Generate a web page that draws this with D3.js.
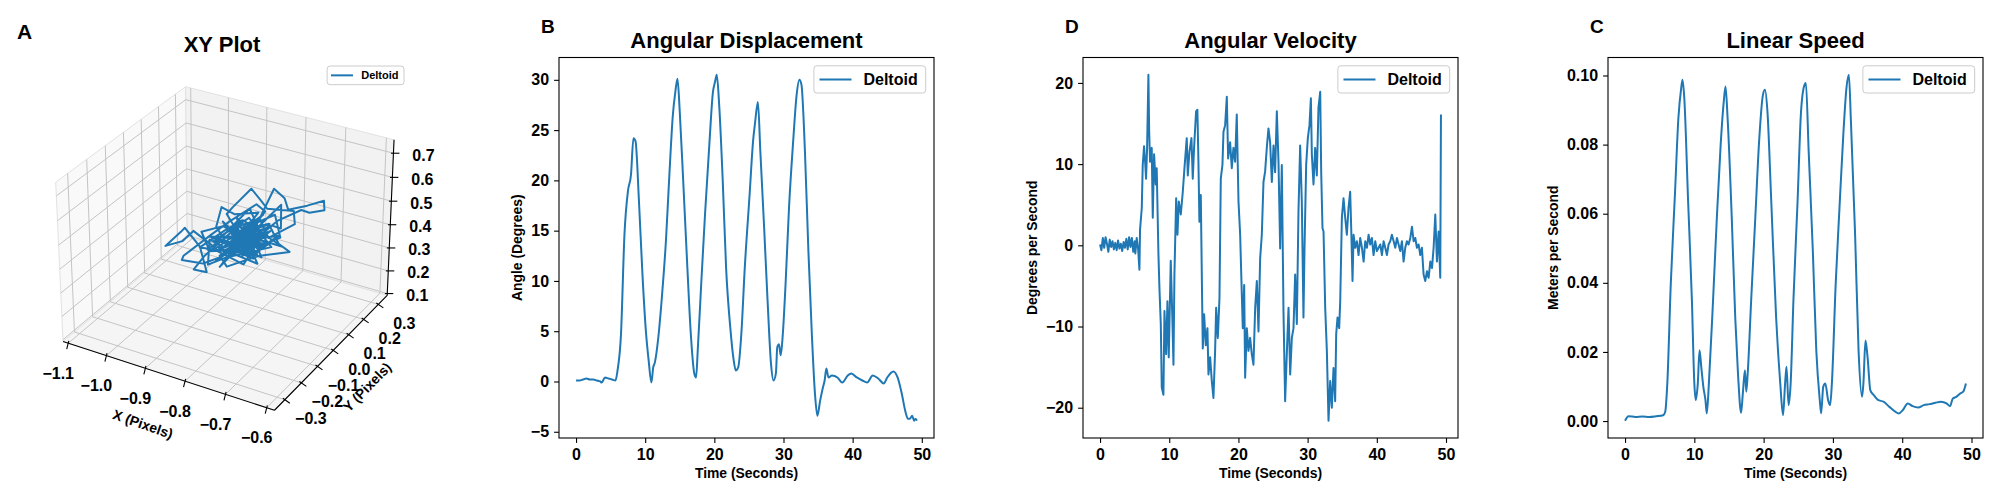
<!DOCTYPE html>
<html>
<head>
<meta charset="utf-8">
<script src="https://cdn.jsdelivr.net/npm/d3@7"></script>
<style>
  body { margin: 0; background: #fff; }
  text { font-family: "Liberation Sans", Arial, sans-serif; font-weight: bold; fill: #000; }
</style>
</head>
<body>
<svg id="fig" width="2000" height="500"></svg>
<script>
// ---- data ----
const timeTicks = [0, 10, 20, 30, 40, 50];
const angleTicks = [-5, 0, 5, 10, 15, 20, 25, 30];
const velTicks = [-20, -10, 0, 10, 20];
const speedTicks = [0, 0.02, 0.04, 0.06, 0.08, 0.10];
const xTicks3d = [-1.1, -1.0, -0.9, -0.8, -0.7, -0.6];
const yTicks3d = [-0.3, -0.2, -0.1, 0.0, 0.1, 0.2, 0.3];
const zTicks3d = [0.1, 0.2, 0.3, 0.4, 0.5, 0.6, 0.7];

// B: angular displacement
const dispTime = [0,0.5,1.0,1.5,2.0,2.5,3.0,3.5,3.7,4.2,
  4.7,5.2,5.7,6.0,6.5,7.0,7.5,7.95,8.3,8.6,
  9.1,9.6,10.1,10.5,10.9,11.16,11.4,11.9,12.45,13.0,
  13.5,14.0,14.36,14.67,15.0,15.5,16.1,16.6,17.1,17.36,
  17.6,18.1,18.65,19.27,19.8,20.1,20.35,20.7,21.2,21.7,
  22.3,22.8,23.1,23.45,23.9,24.4,25.1,25.6,25.9,26.3,
  26.65,27.2,27.7,28.2,28.56,28.9,29.1,29.35,29.6,29.9,
  30.3,30.8,31.4,31.9,32.3,32.6,33.1,33.6,34.1,34.55,
  34.9,35.3,35.7,35.95,36.2,36.5,37.0,37.8,38.5,39.3,
  39.8,40.6,41.4,42.1,42.9,43.7,44.5,45.0,45.9,46.5,
  47.1,47.6,48.0,48.3,48.6,48.9,49.1,49.3];
const dispAngle = [0.1,0.1,0.2,0.3,0.2,0.2,0.1,0.0,-0.1,0.4,
  0.3,0.2,0.1,1.1,4.7,14.6,18.9,20.6,24.2,23.9,
  17.9,10.7,5.0,2.1,-0.1,1.4,1.9,4.4,8.7,14.0,
  20.6,26.5,28.8,30.1,26.8,19.9,11.3,4.7,0.8,0.4,
  3.1,9.7,16.6,23.5,28.8,29.8,30.5,27.5,20.2,11.3,
  5.4,2.1,1.1,1.4,4.7,11.3,18.6,23.9,25.8,27.8,
  22.9,15.3,8.0,1.7,0.1,0.8,3.4,3.7,2.6,4.7,
  9.7,17.3,23.9,28.5,30.0,29.5,22.9,13.0,4.7,-1.2,
  -3.4,-1.9,-0.6,0.1,1.3,0.4,0.6,0.4,-0.1,0.6,
  0.8,0.4,0.1,-0.1,0.6,0.3,-0.2,0.4,1.0,0.4,
  -1.2,-2.9,-3.7,-3.7,-3.4,-3.9,-3.7,-3.9];

// D: angular velocity
const velTime = [0,0.2,0.4,0.6,0.8,1.0,1.2,1.4,1.6,1.8,
  2.0,2.2,2.4,2.6,2.8,3.0,3.2,3.4,3.6,3.8,
  4.0,4.2,4.4,4.6,4.8,5.0,5.1,5.3,5.5,5.69,
  5.78,6.03,6.17,6.36,6.5,6.65,6.8,6.99,7.1,7.23,
  7.47,7.62,7.81,8.05,8.19,8.44,8.58,8.78,8.92,9.16,
  9.31,9.55,9.74,9.93,10.22,10.46,10.61,10.75,11.0,11.19,
  11.38,11.67,11.96,12.2,12.53,12.68,12.92,13.21,13.4,13.59,
  13.88,14.07,14.22,14.36,14.56,14.75,14.85,15.04,15.28,15.52,
  15.67,15.91,16.15,16.39,16.63,16.78,17.02,17.26,17.45,17.69,
  17.84,18.08,18.32,18.51,18.8,19.04,19.28,19.52,19.76,20.01,
  20.25,20.49,20.63,20.83,20.97,21.21,21.45,21.69,21.93,22.17,
  22.42,22.66,22.9,23.14,23.38,23.62,23.86,24.1,24.34,24.58,
  24.83,25.07,25.3,25.55,25.79,26.03,26.27,26.51,26.75,26.99,
  27.24,27.48,27.72,27.96,28.2,28.44,28.68,28.92,29.16,29.4,
  29.55,29.79,30.03,30.27,30.47,30.61,30.85,31.09,31.33,31.57,
  31.82,31.96,32.15,32.3,32.54,32.78,33.02,33.26,33.5,33.74,
  33.98,34.13,34.32,34.56,34.71,34.95,35.19,35.43,35.67,35.91,
  36.15,36.3,36.49,36.64,36.88,37.12,37.36,37.6,37.85,38.09,
  38.33,38.57,38.81,39.05,39.29,39.53,39.77,40.01,40.26,40.5,
  40.74,40.98,41.22,41.46,41.7,41.94,42.18,42.43,42.67,42.91,
  43.15,43.39,43.63,43.87,44.11,44.35,44.59,44.84,45.08,45.32,
  45.56,45.8,46.04,46.28,46.52,46.76,47.0,47.25,47.49,47.73,
  47.97,48.21,48.45,48.69,48.93,49.17,49.27];
const velDeg = [0.1,-0.6,0.9,-0.3,1.0,0.2,-0.8,0.7,-0.2,0.5,
  -0.5,0.3,-0.6,0.6,-0.4,0.2,-0.7,0.4,-0.3,0.8,
  -0.5,1.0,-0.2,0.9,-0.8,0.5,-1.0,0.9,-0.4,-3.0,
  1.9,4.6,9.9,12.2,10.5,8.2,12.0,21.0,14.0,10.3,
  12.0,3.4,11.2,7.5,9.5,-1.1,-5.2,-9.7,-17.5,-18.4,
  -8.1,-13.4,-6.9,-13.8,-1.9,-9.3,-14.7,-3.6,5.8,1.3,
  5.4,3.8,6.6,9.5,13.2,8.6,11.5,13.2,8.2,12.0,
  16.5,16.7,10.3,2.9,6.2,-6.5,-12.7,-8.5,-12.3,-10.2,
  -15.9,-13.8,-16.7,-18.8,-13.0,-7.7,-11.4,-6.5,8.2,9.9,
  14.0,14.8,18.3,10.7,12.7,9.5,12.0,10.3,16.1,5.4,
  1.3,-6.1,-10.2,-4.9,-16.3,-10.2,-13.0,-11.4,-13.4,-14.7,
  -7.7,-4.4,-10.6,-1.6,1.3,7.8,9.1,12.0,14.4,12.7,
  7.8,12.3,9.0,16.5,10.3,-0.4,9.9,-8.1,-19.2,-13.4,
  -7.7,-15.9,-11.4,-10.2,-3.6,-9.7,4.2,12.3,5.4,-8.9,
  -0.4,9.9,13.2,14.8,18.1,11.2,7.5,12.0,8.6,17.0,
  18.9,9.1,2.1,1.7,-7.7,-13.0,-21.6,-16.7,-20.0,-15.1,
  -19.2,-10.9,-8.9,-10.2,-6.9,3.4,5.8,3.4,1.3,4.6,
  6.6,2.1,-4.4,1.3,-0.3,0.5,-1.2,0.9,-0.3,-2.0,
  0.5,-0.3,1.3,0.1,0.9,-1.2,0.5,-0.7,-0.3,0.1,
  -1.2,0.5,-0.3,-1.2,0.1,0.5,1.3,0.5,-0.3,0.9,
  0.1,-0.7,0.5,-2.0,-0.3,0.5,0.1,0.9,2.3,0.5,
  0.9,-0.3,0.1,-1.2,-0.3,-3.6,-4.4,-3.2,-4.0,-2.0,
  -2.8,-0.3,3.8,-2.0,1.7,-4.0,16.1];

// C: linear speed
const speedTime = [0,0.5,1.5,2.5,3.5,4.5,5.5,5.8,6.1,6.6,
  7.2,7.7,8.1,8.3,8.55,9.1,9.65,10.0,10.2,10.5,
  10.75,11.0,11.3,11.6,11.8,12.1,12.7,13.25,13.8,14.25,
  14.5,14.8,15.4,15.9,16.3,16.75,17.0,17.3,17.5,17.7,
  18.2,18.8,19.35,19.9,20.2,20.55,21.1,21.8,22.4,22.8,
  23.1,23.3,23.6,23.9,24.3,24.9,25.4,25.9,26.1,26.5,
  27.1,27.6,28.1,28.3,28.6,28.9,29.3,29.6,29.85,30.4,
  30.95,31.5,31.95,32.3,32.6,33.2,33.7,34.2,34.4,34.7,
  35.0,35.4,35.9,36.5,37.3,38.15,39.0,39.5,40.1,40.8,
  41.5,42.3,43.1,43.95,44.8,45.6,46.4,46.9,47.3,47.8,
  48.4,48.8,49.2];
const speedVal = [0.0001,0.0014,0.0012,0.0013,0.0012,0.0014,0.0017,0.0027,0.0109,0.0397,
  0.0656,0.0877,0.0963,0.0988,0.0935,0.0637,0.0349,0.0109,0.0061,0.0109,
  0.0205,0.0157,0.0099,0.0061,0.0022,0.0109,0.0349,0.0589,0.08,0.0925,
  0.0968,0.0877,0.0589,0.0301,0.0137,0.0024,0.008,0.0147,0.0085,0.0137,
  0.0349,0.0589,0.081,0.0944,0.0959,0.0896,0.0637,0.0301,0.0109,0.0017,
  0.0109,0.0157,0.0046,0.0109,0.0349,0.0637,0.0896,0.0973,0.0978,0.0781,
  0.0493,0.0205,0.0061,0.0022,0.0099,0.0109,0.0061,0.0046,0.0109,0.0397,
  0.0618,0.0829,0.0963,0.1002,0.0867,0.0541,0.0205,0.007,0.0109,0.0233,
  0.0185,0.0089,0.0075,0.0061,0.0056,0.0041,0.0027,0.0022,0.0032,0.0051,
  0.0043,0.0039,0.0046,0.0049,0.0053,0.0056,0.0051,0.0043,0.0065,0.007,
  0.008,0.0085,0.0109];

// A: xy trace (3d)
const xyX = [-0.911,-0.848,-0.797,-0.835,-0.764,-0.810,-0.873,-0.936,-0.974,-1.005,
  -0.982,-0.949,-0.924,-0.886,-0.911,-0.936,-0.898,-0.835,-0.772,-0.734,
  -0.690,-0.701,-0.746,-0.766,-0.802,-0.827,-0.855,-0.810,-0.754,-0.721,
  -0.690,-0.784,-0.842,-0.873,-0.822,-0.779,-0.734,-0.716,-0.695,-0.657,
  -0.625,-0.612,-0.640,-0.675,-0.721,-0.772,-0.830,-0.881,-0.924,-0.860,
  -0.797,-0.759,-0.789,-0.840,-0.898,-0.949,-0.967,-0.916,-0.855,-0.815,
  -0.754,-0.713,-0.739,-0.784,-0.835,-0.886,-0.868,-0.822,-0.784,-0.810,
  -0.855,-0.903,-0.886,-0.840,-0.792,-0.746,-0.708,-0.728,-0.772,-0.815,
  -0.865,-0.911,-0.873,-0.810,-0.764,-0.804,-0.860,
  -0.835,-0.789,-0.820,-0.754,-0.845,-0.777,-0.875,-0.799,-0.739,-0.855,
  -0.815,-0.764,-0.891,-0.804,-0.744,-0.830,-0.784,-0.865,-0.794,-0.728,
  -0.840,-0.774,-0.820,-0.881,-0.759,-0.810,-0.850,-0.749,-0.789,-0.835,
  -0.769,-0.870,-0.799,-0.734,-0.825,-0.779,-0.845,-0.759,-0.815,-0.860,
  -0.794,-0.723,-0.830,-0.764,-0.804,-0.886,-0.820,-0.754,-0.840,-0.784,
  -0.810,-0.865,-0.769,-0.825,-0.799,-0.744,-0.845,-0.789,-0.820,-0.774,
  -0.855,-0.804,-0.835];
const xyY = [0.02,-0.01,0.03,-0.02,0.01,0.04,-0.03,0.00,0.02,-0.01,
  0.03,-0.02,0.01,-0.04,0.02,0.00,-0.02,0.03,0.01,-0.03,
  0.02,0.04,-0.01,0.00,0.03,-0.02,0.01,-0.03,0.02,0.00,
  -0.01,0.03,-0.02,0.01,0.04,-0.02,0.00,0.02,-0.01,0.01,
  0.03,0.00,-0.02,0.02,-0.01,0.03,0.01,-0.03,0.02,0.00,
  -0.02,0.01,0.03,-0.01,0.02,-0.03,0.00,0.01,-0.02,0.03,
  0.01,-0.01,0.02,0.00,-0.03,0.02,0.01,-0.02,0.03,0.00,
  -0.01,0.02,-0.03,0.01,0.00,0.02,-0.02,0.03,-0.01,0.01,
  0.02,-0.02,0.00,0.03,-0.01,0.01,-0.02,
  0.01,-0.02,0.02,0.00,-0.01,0.03,-0.02,0.01,0.00,0.02,
  -0.03,0.01,0.02,-0.01,0.00,0.03,-0.02,0.01,-0.01,0.02,
  0.00,-0.02,0.03,0.01,-0.01,0.02,0.00,-0.03,0.01,0.02,
  -0.01,0.00,0.03,-0.02,0.01,0.02,-0.01,0.00,0.02,-0.02,
  0.01,0.03,-0.01,0.00,0.02,-0.02,0.01,0.03,-0.01,0.00,
  0.02,-0.03,0.01,0.00,0.02,-0.01,0.03,-0.02,0.01,0.00,
  -0.01,0.02,0.00];
const xyZ = [0.343,0.444,0.417,0.495,0.470,0.553,0.408,0.424,0.350,0.333,
  0.380,0.443,0.357,0.305,0.247,0.259,0.350,0.473,0.544,0.509,
  0.556,0.593,0.611,0.630,0.644,0.586,0.527,0.496,0.528,0.473,
  0.460,0.372,0.330,0.343,0.415,0.496,0.692,0.650,0.631,0.653,
  0.676,0.661,0.650,0.621,0.573,0.475,0.389,0.382,0.414,0.480,
  0.473,0.582,0.586,0.514,0.415,0.330,0.285,0.288,0.366,0.450,
  0.454,0.508,0.572,0.524,0.430,0.453,0.550,0.559,0.554,0.479,
  0.401,0.391,0.323,0.362,0.437,0.524,0.554,0.612,0.518,0.520,
  0.447,0.378,0.373,0.436,0.427,0.378,0.433,
  0.395,0.499,0.360,0.493,0.476,0.411,0.424,0.537,0.450,0.340,
  0.476,0.566,0.354,0.352,0.543,0.441,0.437,0.491,0.392,0.491,
  0.418,0.525,0.395,0.404,0.404,0.505,0.369,0.470,0.473,0.517,
  0.372,0.383,0.441,0.531,0.366,0.462,0.450,0.438,0.424,0.320,
  0.505,0.441,0.476,0.453,0.404,0.436,0.447,0.511,0.401,0.380,
  0.462,0.352,0.493,0.496,0.372,0.464,0.424,0.421,0.473,0.404,
  0.383,0.447,0.447];

// ---- layout ----
const svg = d3.select("#fig");
const blue = "#1f77b4";
const plotTop = 57.5, plotBottom = 438, plotW = 375;

// matplotlib-like 5% margins
function padded(vals) {
  const [lo, hi] = d3.extent(vals);
  const m = (hi - lo) * 0.05;
  return [lo - m, hi + m];
}

function legend(g, right, top, fs) {
  const h = fs * 1.7;
  const box = g.append("rect").attr("y", top).attr("height", h).attr("rx", 3)
    .attr("fill", "#fff").attr("fill-opacity", 0.8).attr("stroke", "#cccccc").attr("stroke-width", 1);
  const txt = g.append("text").attr("font-size", fs).attr("y", top + h / 2 + fs * 0.36).text("Deltoid");
  const tw = txt.node().getComputedTextLength();
  const w = fs * 0.4 + fs * 2 + fs * 0.8 + tw + fs * 0.4;
  const left = right - w;
  box.attr("x", left).attr("width", w);
  g.append("line").attr("x1", left + fs * 0.35).attr("x2", left + fs * 2.35)
    .attr("y1", top + h / 2).attr("y2", top + h / 2)
    .attr("stroke", blue).attr("stroke-width", 2);
  txt.attr("x", left + fs * 2.35 + fs * 0.75);
}

function panel(o) {
  const g = svg.append("g");
  const x = d3.scaleLinear().domain(padded(o.t)).range([o.left, o.left + plotW]);
  const y = d3.scaleLinear().domain(padded(o.v)).range([plotBottom, plotTop]);

  g.append("clipPath").attr("id", o.id).append("rect")
    .attr("x", o.left).attr("y", plotTop).attr("width", plotW).attr("height", plotBottom - plotTop);

  const line = d3.line().x(i => x(o.t[i])).y(i => y(o.v[i])).curve(o.curve);
  g.append("path").datum(d3.range(o.t.length))
    .attr("clip-path", `url(#${o.id})`)
    .attr("d", line).attr("fill", "none").attr("stroke", blue).attr("stroke-width", 2)
    .attr("stroke-linejoin", "round");

  const ax = g.append("g").attr("transform", `translate(0,${plotBottom})`)
    .call(d3.axisBottom(x).tickValues(timeTicks).tickFormat(d3.format("d")).tickSize(4.9).tickPadding(5.5));
  const ay = g.append("g").attr("transform", `translate(${o.left},0)`)
    .call(d3.axisLeft(y).tickValues(o.ticks).tickFormat(o.fmt).tickSize(4.9).tickPadding(5));
  [ax, ay].forEach(a => {
    a.select(".domain").remove();
    a.selectAll("line").attr("stroke", "#000").attr("stroke-width", 1.1);
    a.selectAll("text").attr("font-size", 16);
  });

  g.append("rect").attr("x", o.left).attr("y", plotTop).attr("width", plotW)
    .attr("height", plotBottom - plotTop).attr("fill", "none")
    .attr("stroke", "#000").attr("stroke-width", 1.1);

  const cx = o.left + plotW / 2;
  g.append("text").attr("x", cx).attr("y", 48).attr("text-anchor", "middle")
    .attr("font-size", 22).text(o.title);
  g.append("text").attr("x", o.left - 18).attr("y", 33).attr("font-size", 19).text(o.letter);
  g.append("text").attr("x", cx).attr("y", 478).attr("text-anchor", "middle")
    .attr("font-size", 13.9).text("Time (Seconds)");

  const bb = ay.node().getBBox();
  const lx = o.left + bb.x - 9, ly = (plotTop + plotBottom) / 2;
  g.append("text").attr("transform", `translate(${lx},${ly}) rotate(-90)`)
    .attr("text-anchor", "middle").attr("font-size", 13.9).text(o.ylabel);

  legend(g, o.left + plotW - 8.3, plotTop + 8.3, 16);
}

panel({ id: "clipB", left: 559, t: dispTime, v: dispAngle, ticks: angleTicks, fmt: d3.format("d"),
  title: "Angular Displacement", letter: "B", ylabel: "Angle (Degrees)", curve: d3.curveMonotoneX });
panel({ id: "clipD", left: 1083, t: velTime, v: velDeg, ticks: velTicks, fmt: d3.format("d"),
  title: "Angular Velocity", letter: "D", ylabel: "Degrees per Second", curve: d3.curveLinear });
panel({ id: "clipC", left: 1608, t: speedTime, v: speedVal, ticks: speedTicks, fmt: d3.format(".2f"),
  title: "Linear Speed", letter: "C", ylabel: "Meters per Second", curve: d3.curveMonotoneX });

// ---- 3d panel A ----
const g3 = svg.append("g");
const xs3 = d3.scaleLinear().domain([-1.1136, -0.5814]).range([-1, 1]);
const ys3 = d3.scaleLinear().domain([-0.3615, 0.3615]).range([-1, 1]);
const zs3 = d3.scaleLinear().domain([0.092, 0.755]).range([-1, 1]);

const elev = 30 * Math.PI / 180, azim = -60 * Math.PI / 180;
const aspect = [4, 4, 3];
const aspNorm = Math.hypot(...aspect);
const halfBox = aspect.map(d => d * 1.8295 / aspNorm / 2);
const cross = (a, b) => [a[1]*b[2]-a[2]*b[1], a[2]*b[0]-a[0]*b[2], a[0]*b[1]-a[1]*b[0]];
const dot = (a, b) => a[0]*b[0] + a[1]*b[1] + a[2]*b[2];
const wv = [Math.cos(elev) * Math.cos(azim), Math.cos(elev) * Math.sin(azim), Math.sin(elev)];
let uv = cross([0, 0, 1], wv);
const un = Math.hypot(...uv); uv = uv.map(d => d / un);
const vv = cross(wv, uv);
const camDist = 10, projScale = 2120, projCx = 228, projCy = 241;

function project(x, y, z) {
  const d = [halfBox[0] * xs3(x), halfBox[1] * ys3(y), halfBox[2] * zs3(z)];
  const den = camDist - dot(wv, d);
  return [projCx + projScale * dot(uv, d) / den, projCy - projScale * dot(vv, d) / den];
}

const [x0, x1] = xs3.domain(), [y0, y1] = ys3.domain(), [z0, z1] = zs3.domain();
const panes = [
  { c: "#f9f9f9", pts: [[x0,y0,z0],[x0,y1,z0],[x0,y1,z1],[x0,y0,z1]] },
  { c: "#f2f2f2", pts: [[x0,y1,z0],[x1,y1,z0],[x1,y1,z1],[x0,y1,z1]] },
  { c: "#f5f5f5", pts: [[x0,y0,z0],[x1,y0,z0],[x1,y1,z0],[x0,y1,z0]] }
];
g3.selectAll("polygon.pane").data(panes).join("polygon").attr("class", "pane")
  .attr("points", d => d.pts.map(p => project(...p).join(",")).join(" "))
  .attr("fill", d => d.c).attr("stroke", "#e2e2e2").attr("stroke-width", 1);

const seg = (a, b) => { const p = project(...a), q = project(...b); return `M${p}L${q}`; };
const gridSegs = [];
xTicks3d.forEach(t => { gridSegs.push(seg([t,y0,z0],[t,y1,z0])); gridSegs.push(seg([t,y1,z0],[t,y1,z1])); });
yTicks3d.forEach(t => { gridSegs.push(seg([x0,t,z0],[x1,t,z0])); gridSegs.push(seg([x0,t,z0],[x0,t,z1])); });
zTicks3d.forEach(t => { gridSegs.push(seg([x0,y0,t],[x0,y1,t])); gridSegs.push(seg([x0,y1,t],[x1,y1,t])); });
g3.append("path").attr("d", gridSegs.join("")).attr("fill", "none")
  .attr("stroke", "#c4c4c4").attr("stroke-width", 1);

// axis lines
g3.append("path").attr("d", seg([x0,y0,z0],[x1,y0,z0]) + seg([x1,y0,z0],[x1,y1,z0]) + seg([x1,y1,z0],[x1,y1,z1]))
  .attr("fill", "none").attr("stroke", "#000").attr("stroke-width", 1.1);

const fmt1 = d3.format(".1f");
function ticks3d(vals, toPt, tick, off) {
  vals.forEach(t => {
    const p = project(...toPt(t));
    g3.append("line").attr("x1", p[0] - tick[0] * 0.4).attr("y1", p[1] - tick[1] * 0.4)
      .attr("x2", p[0] + tick[0]).attr("y2", p[1] + tick[1])
      .attr("stroke", "#000").attr("stroke-width", 1.1);
    g3.append("text").attr("x", p[0] + off[0]).attr("y", p[1] + off[1])
      .attr("text-anchor", "middle").attr("dominant-baseline", "central")
      .attr("font-size", 16).text(fmt1(t));
  });
}
ticks3d(xTicks3d, t => [t, y0, z0], [-1.5, 6], [-10, 30]);
ticks3d(yTicks3d, t => [x1, t, z0], [5, 3.5], [26, 19]);
ticks3d(zTicks3d, t => [x1, y1, t], [6, 0], [30, 2]);

g3.append("text").attr("transform", "translate(143,424) rotate(19)")
  .attr("text-anchor", "middle").attr("dominant-baseline", "central").attr("font-size", 13.9).text("X (Pixels)");
g3.append("text").attr("transform", "translate(367,387) rotate(-46)")
  .attr("text-anchor", "middle").attr("dominant-baseline", "central").attr("font-size", 13.9).text("Y (Pixels)");

g3.append("path").datum(d3.range(xyX.length))
  .attr("d", d3.line().x(i => project(xyX[i], xyY[i], xyZ[i])[0]).y(i => project(xyX[i], xyY[i], xyZ[i])[1]))
  .attr("fill", "none").attr("stroke", blue).attr("stroke-width", 2).attr("stroke-linejoin", "round");

g3.append("text").attr("x", 222).attr("y", 52).attr("text-anchor", "middle").attr("font-size", 22).text("XY Plot");
g3.append("text").attr("x", 17).attr("y", 39).attr("font-size", 21).text("A");
legend(g3, 404, 66, 11);
</script>
</body>
</html>
